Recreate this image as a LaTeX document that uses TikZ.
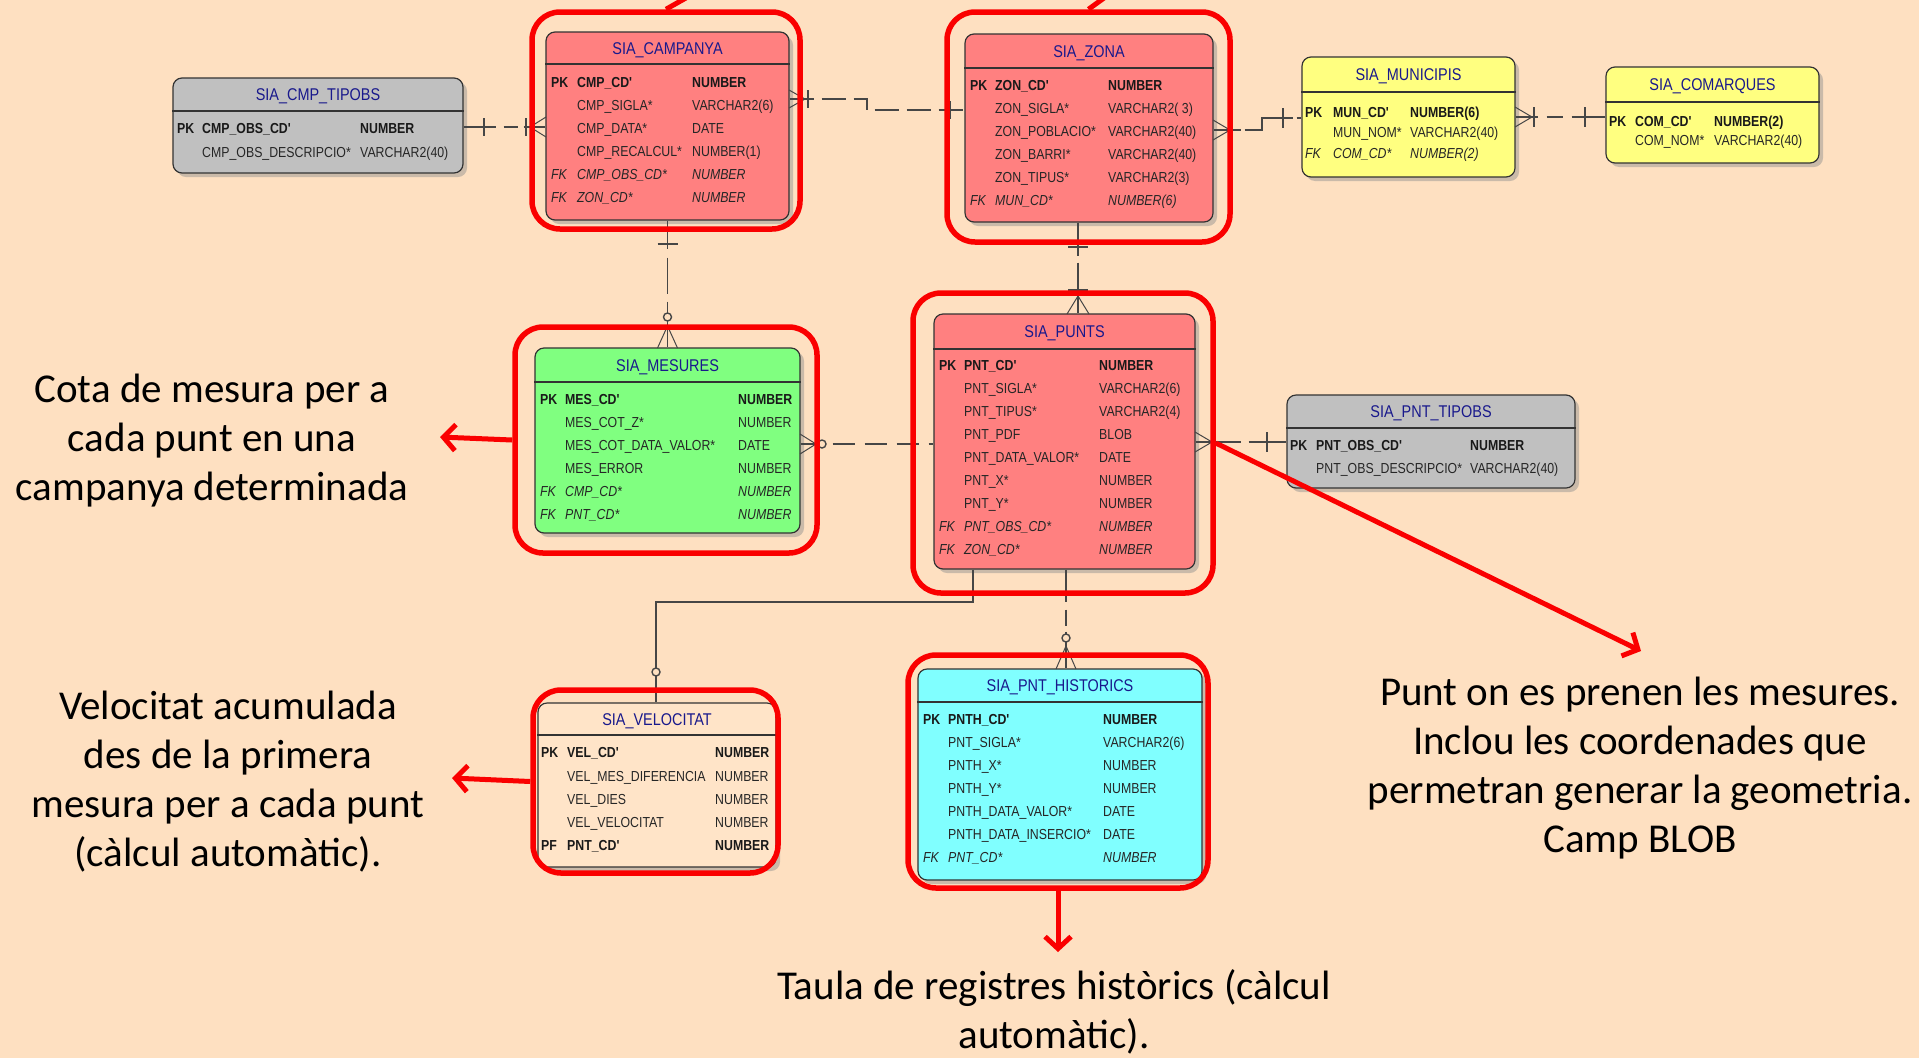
\documentclass[tikz,border=0pt]{standalone}
\usepackage{fontspec}
\setmainfont{Carlito}
\newfontfamily\erf[FakeStretch=0.85]{Liberation Sans}
\usetikzlibrary{arrows.meta,shadows}

\definecolor{bg}{RGB}{254,224,193}
\definecolor{pinkf}{RGB}{255,128,128}
\definecolor{yelf}{RGB}{255,255,128}
\definecolor{grnf}{RGB}{128,255,128}
\definecolor{cyaf}{RGB}{128,255,255}
\definecolor{gryf}{RGB}{192,192,192}
\definecolor{velf}{RGB}{255,228,200}
\definecolor{ttlc}{RGB}{25,25,140}
\definecolor{ringc}{RGB}{250,0,0}
\definecolor{connc}{RGB}{70,70,70}

\newcommand\rowfont{\erf\fontsize{14.5}{17}\selectfont}
\newcommand\ttlfont{\erf\fontsize{17}{20}\selectfont}

\tikzset{
  tablebox/.style={draw=black!80, line width=1.2pt, rounded corners=9pt, inner sep=0pt,
    drop shadow={shadow xshift=4pt, shadow yshift=-4pt, fill=black!45, opacity=0.45}},
  ttl/.style={font=\ttlfont, text=ttlc, anchor=base, inner sep=0pt},
  hdr/.style={draw=black!80, line width=1.2pt},
  rtb/.style={font=\rowfont\bfseries, anchor=base west, inner sep=0pt, text=black!90},
  rtn/.style={font=\rowfont, anchor=base west, inner sep=0pt, text=black!85},
  rti/.style={font=\rowfont\itshape, anchor=base west, inner sep=0pt, text=black!85},
  ring/.style={draw=ringc, line width=5.5pt, rounded corners=28pt, inner sep=0pt},
  conn/.style={draw=connc, line width=1.4pt},
  foot/.style={draw=connc, line width=1pt},
  redarr/.style={draw=ringc, line width=5pt, -{Straight Barb[length=12pt,width=26pt]}},
  redline/.style={draw=ringc, line width=5pt},
  ann/.style={font=\fontsize{41}{49}\selectfont, align=center, inner sep=0pt, text=black},
}

\newcommand\ertable[8]{%
  \node[tablebox, fill=#7, minimum width={#4-#2}, minimum height={#5-#3}] (#1) at ({(#2+#4)/2},{(#3+#5)/2}) {};
  \draw[hdr] (#1.west |- 0,#6) -- (#1.east |- 0,#6);
  \node[ttl] (#1-title) at ({(#2+#4)/2},{(#3+#6)/2+6}) {#8};
}
\newcount\rcnt
\newcommand\rw[5]{\global\advance\rcnt by 1
  \node[rt#1] (k\the\rcnt) at (\ck,{#5+5}) {#2};
  \node[rt#1] (n\the\rcnt) at (\cn,{#5+5}) {#3};
  \node[rt#1] (t\the\rcnt) at (\ct,{#5+5}) {#4};
}

\begin{document}
\begin{tikzpicture}[x=1pt,y=-1pt]
\useasboundingbox (0,0) rectangle (1919,1058);
\fill[bg] (0,0) rectangle (1919,1058);

% ---------- tables ----------
\ertable{tipobs}{173}{78}{463}{173}{111}{gryf}{SIA\_CMP\_TIPOBS}
\def\ck{177}\def\cn{202}\def\ct{360}
\rw{b}{PK}{CMP\_OBS\_CD'}{NUMBER}{128}
\rw{n}{}{CMP\_OBS\_DESCRIPCIO*}{VARCHAR2(40)}{152}

\ertable{campanya}{546}{32}{789}{220}{64}{pinkf}{SIA\_CAMPANYA}
\def\ck{551}\def\cn{577}\def\ct{692}
\rw{b}{PK}{CMP\_CD'}{NUMBER}{82}
\rw{n}{}{CMP\_SIGLA*}{VARCHAR2(6)}{105}
\rw{n}{}{CMP\_DATA*}{DATE}{128}
\rw{n}{}{CMP\_RECALCUL*}{NUMBER(1)}{151}
\rw{i}{FK}{CMP\_OBS\_CD*}{NUMBER}{174}
\rw{i}{FK}{ZON\_CD*}{NUMBER}{197}

\ertable{zona}{965}{34}{1213}{222}{68}{pinkf}{SIA\_ZONA}
\def\ck{970}\def\cn{995}\def\ct{1108}
\rw{b}{PK}{ZON\_CD'}{NUMBER}{85}
\rw{n}{}{ZON\_SIGLA*}{VARCHAR2( 3)}{108}
\rw{n}{}{ZON\_POBLACIO*}{VARCHAR2(40)}{131}
\rw{n}{}{ZON\_BARRI*}{VARCHAR2(40)}{154}
\rw{n}{}{ZON\_TIPUS*}{VARCHAR2(3)}{177}
\rw{i}{FK}{MUN\_CD*}{NUMBER(6)}{200}

\ertable{munic}{1302}{57}{1515}{177}{92}{yelf}{SIA\_MUNICIPIS}
\def\ck{1305}\def\cn{1333}\def\ct{1410}
\rw{b}{PK}{MUN\_CD'}{NUMBER(6)}{112}
\rw{n}{}{MUN\_NOM*}{VARCHAR2(40)}{132}
\rw{i}{FK}{COM\_CD*}{NUMBER(2)}{153}

\ertable{comarq}{1606}{67}{1819}{163}{102}{yelf}{SIA\_COMARQUES}
\def\ck{1609}\def\cn{1635}\def\ct{1714}
\rw{b}{PK}{COM\_CD'}{NUMBER(2)}{121}
\rw{n}{}{COM\_NOM*}{VARCHAR2(40)}{140}

\ertable{mesures}{535}{348}{800}{533}{382}{grnf}{SIA\_MESURES}
\def\ck{540}\def\cn{565}\def\ct{738}
\rw{b}{PK}{MES\_CD'}{NUMBER}{399}
\rw{n}{}{MES\_COT\_Z*}{NUMBER}{422}
\rw{n}{}{MES\_COT\_DATA\_VALOR*}{DATE}{445}
\rw{n}{}{MES\_ERROR}{NUMBER}{468}
\rw{i}{FK}{CMP\_CD*}{NUMBER}{491}
\rw{i}{FK}{PNT\_CD*}{NUMBER}{514}

\ertable{punts}{934}{314}{1195}{569}{349}{pinkf}{SIA\_PUNTS}
\def\ck{939}\def\cn{964}\def\ct{1099}
\rw{b}{PK}{PNT\_CD'}{NUMBER}{365}
\rw{n}{}{PNT\_SIGLA*}{VARCHAR2(6)}{388}
\rw{n}{}{PNT\_TIPUS*}{VARCHAR2(4)}{411}
\rw{n}{}{PNT\_PDF}{BLOB}{434}
\rw{n}{}{PNT\_DATA\_VALOR*}{DATE}{457}
\rw{n}{}{PNT\_X*}{NUMBER}{480}
\rw{n}{}{PNT\_Y*}{NUMBER}{503}
\rw{i}{FK}{PNT\_OBS\_CD*}{NUMBER}{526}
\rw{i}{FK}{ZON\_CD*}{NUMBER}{549}

\ertable{pnttip}{1287}{395}{1575}{488}{428}{gryf}{SIA\_PNT\_TIPOBS}
\def\ck{1290}\def\cn{1316}\def\ct{1470}
\rw{b}{PK}{PNT\_OBS\_CD'}{NUMBER}{445}
\rw{n}{}{PNT\_OBS\_DESCRIPCIO*}{VARCHAR2(40)}{468}

\ertable{veloc}{538}{703}{776}{867}{735}{velf}{SIA\_VELOCITAT}
\def\ck{541}\def\cn{567}\def\ct{715}
\rw{b}{PK}{VEL\_CD'}{NUMBER}{752}
\rw{n}{}{VEL\_MES\_DIFERENCIA}{NUMBER}{776}
\rw{n}{}{VEL\_DIES}{NUMBER}{799}
\rw{n}{}{VEL\_VELOCITAT}{NUMBER}{822}
\rw{b}{PF}{PNT\_CD'}{NUMBER}{845}

\ertable{histor}{918}{669}{1202}{880}{702}{cyaf}{SIA\_PNT\_HISTORICS}
\def\ck{923}\def\cn{948}\def\ct{1103}
\rw{b}{PK}{PNTH\_CD'}{NUMBER}{719}
\rw{n}{}{PNT\_SIGLA*}{VARCHAR2(6)}{742}
\rw{n}{}{PNTH\_X*}{NUMBER}{765}
\rw{n}{}{PNTH\_Y*}{NUMBER}{788}
\rw{n}{}{PNTH\_DATA\_VALOR*}{DATE}{811}
\rw{n}{}{PNTH\_DATA\_INSERCIO*}{DATE}{834}
\rw{i}{FK}{PNT\_CD*}{NUMBER}{857}

% ---------- connectors ----------
% CMP_TIPOBS - CAMPANYA
\draw[conn, dash pattern=on 32pt off 8pt on 14pt off 6pt on 40pt] (tipobs.east |- 0,127) -- (campanya.west |- 0,127);
\draw[conn] (484,118) -- (484,136);
\draw[conn] (526,118) -- (526,136);
\draw[foot] (530,127) -- (546,117) (530,127) -- (546,137);
% CAMPANYA - ZONA
\draw[conn, dash pattern=on 24pt off 8pt] (campanya.east |- 0,99) -- (867,99) -- (867,110) -- (zona.west |- 0,110);
\draw[foot] (805,99) -- (789,90) (805,99) -- (789,108);
\draw[conn] (808,90) -- (808,108);
\draw[conn] (950,101) -- (950,119);
% ZONA - MUNICIPIS
\draw[conn, dash pattern=on 27pt off 4pt on 60pt off 4pt on 30pt] (zona.east |- 0,130) -- (1262,130) -- (1262,118) -- (munic.west |- 0,118);
\draw[foot] (1230,130) -- (1213,120) (1230,130) -- (1213,140);
\draw[conn] (1232,120) -- (1232,140);
\draw[conn] (1283,108) -- (1283,128);
% MUNICIPIS - COMARQUES
\draw[conn, dash pattern=on 22pt off 9pt on 16pt off 9pt on 50pt] (munic.east |- 0,117) -- (comarq.west |- 0,117);
\draw[foot] (1532,117) -- (1515,107) (1532,117) -- (1515,127);
\draw[conn] (1534,107) -- (1534,127);
\draw[conn] (1585,107) -- (1585,127);
% CAMPANYA - MESURES
\draw[conn, dash pattern=on 28pt off 9pt on 36pt off 8pt on 60pt] (campanya.south) -- (mesures.north);
\draw[conn] (657.5,244) -- (677.5,244);
\draw[foot] (667.5,326) -- (657.5,348) (667.5,326) -- (677.5,348);
\draw[conn, fill=bg] (667.5,317) circle[radius=4pt];
% ZONA - PUNTS
\draw[conn, dash pattern=on 33pt off 7pt on 60pt] (1078,0 |- zona.south) -- (1078,0 |- punts.north);
\draw[conn] (1068,247) -- (1088,247);
\draw[conn] (1068,290) -- (1088,290);
\draw[foot] (1078,296) -- (1067,314) (1078,296) -- (1089,314);
% MESURES - PUNTS
\draw[conn, dash pattern=on 22pt off 10pt] (mesures.east |- 0,444) -- (punts.west |- 0,444);
\draw[foot] (816,444) -- (800,434) (816,444) -- (800,454);
\draw[conn, fill=bg] (822,444) circle[radius=4pt];
% PUNTS - PNT_TIPOBS
\draw[conn, dash pattern=on 45pt off 8pt on 50pt] (punts.east |- 0,442) -- (pnttip.west |- 0,442);
\draw[foot] (1212,442) -- (1195,432) (1212,442) -- (1195,452);
\draw[conn] (1215,432) -- (1215,452);
\draw[conn] (1267,432) -- (1267,452);
% PUNTS - VELOCITAT
\draw[conn] (973,0 |- punts.south) -- (973,602) -- (656,602) -- (656,0 |- veloc.north);
\draw[conn] (963,595) -- (983,595);
\draw[conn, fill=bg] (656,672) circle[radius=4pt];
% PUNTS - HISTORICS
\draw[conn, dash pattern=on 32pt off 8pt on 16pt off 6pt on 60pt] (1066,0 |- punts.south) -- (1066,0 |- histor.north);
\draw[conn] (1056,595) -- (1076,595);
\draw[foot] (1066,646) -- (1056,669) (1066,646) -- (1076,669);
\draw[conn, fill=bg] (1066,638) circle[radius=4pt];

% ---------- red rings ----------
\node[ring, minimum width=268, minimum height=217] (ringCmp) at (666,120.5) {};
\node[ring, minimum width=283, minimum height=230] (ringZona) at (1088.5,127) {};
\node[ring, minimum width=302, minimum height=226] (ringMes) at (666,440) {};
\node[ring, minimum width=300, minimum height=300] (ringPnt) at (1063,443) {};
\node[ring, minimum width=245, minimum height=183] (ringVel) at (655.5,781.5) {};
\node[ring, minimum width=300, minimum height=233] (ringHis) at (1058,771.5) {};

% ---------- red arrows ----------
\coordinate (topA) at (700,-10);
\coordinate (topB) at (1115,-10);
\draw[redline] (ringCmp.north) -- (topA);
\draw[redline] (ringZona.north) -- (topB);
\coordinate (tipMes) at (440,437);
\coordinate (tipVel) at (452,778);
\coordinate (tipPnt) at (1641,651);
\coordinate (tipHis) at (1058,952);
\draw[redarr] (ringMes.west) -- (tipMes);
\draw[redarr] (ringVel.west) -- (tipVel);
\draw[redarr] (ringPnt.east) -- (tipPnt);
\draw[redarr] (ringHis.south) -- (tipHis);

% ---------- annotations ----------
\node[ann] (annMes) at (212,441) {Cota de mesura per a\\cada punt en una\\campanya determinada};
\node[ann] (annVel) at (228,782) {Velocitat acumulada\\des de la primera\\mesura per a cada punt\\(càlcul automàtic).};
\node[ann] (annPnt) at (1640,768) {Punt on es prenen les mesures.\\Inclou les coordenades que\\permetran generar la geometria.\\Camp BLOB};
\node[ann] (annHis) at (1054,1012) {Taula de registres històrics (càlcul\\automàtic).};
\end{tikzpicture}
\end{document}
